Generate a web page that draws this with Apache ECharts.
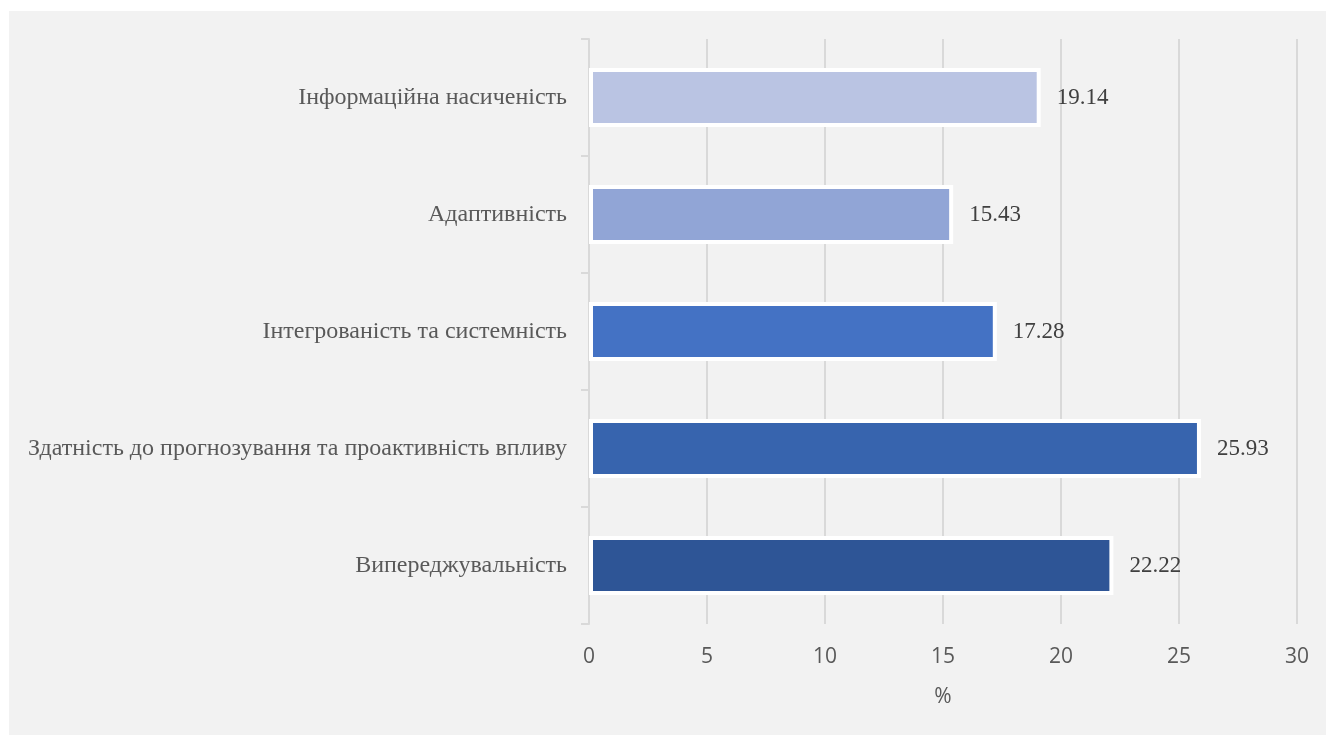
<!DOCTYPE html>
<html>
<head>
<meta charset="utf-8">
<script src="https://cdn.jsdelivr.net/npm/echarts@6/dist/echarts.min.js"></script>
<style>
	html, body { margin: 0; padding: 0; background: #fff; }
	#chart { position: absolute; left: 9px; top: 11px; width: 1317px; height: 724px; background: #f2f2f2; }
</style>
</head>
<body>
<div id="chart"></div>
<script>
// bottom to top
var categories = [
	'Випереджувальність',
	'Здатність до прогнозування та проактивність впливу',
	'Інтегрованість та системність',
	'Адаптивність',
	'Інформаційна насиченість'
];
var values = [22.22, 25.93, 17.28, 15.43, 19.14];
var barColors = ['#2e5596', '#3764ae', '#4472c4', '#91a5d6', '#bac4e3'];

var chart = echarts.init(document.getElementById('chart'));

chart.setOption({
	backgroundColor: '#f2f2f2',
	animation: false,
	grid: {
		left: 580,
		right: 29,
		top: 28,
		bottom: 111
	},
	xAxis: {
		type: 'value',
		min: 0,
		max: 30,
		interval: 5,
		name: '%',
		nameLocation: 'middle',
		nameGap: 63,
		nameTextStyle: { fontFamily: 'Open Sans', fontSize: 21, color: '#595959' },
		axisLine: { show: false },
		axisTick: { show: false },
		axisLabel: { fontFamily: 'Open Sans', fontSize: 21, color: '#595959', margin: 23 },
		splitLine: { show: true, lineStyle: { color: '#d9d9d9', width: 2 } }
	},
	yAxis: {
		type: 'category',
		data: categories,
		axisLine: { show: true, lineStyle: { color: '#d9d9d9', width: 2 } },
		axisTick: { show: true, length: 8, lineStyle: { color: '#d9d9d9', width: 2 } },
		axisLabel: { fontFamily: 'Liberation Serif', fontSize: 24, color: '#595959', margin: 22, padding: [5, 0, 0, 0] }
	},
	series: [{
		type: 'bar',
		data: values,
		barWidth: 59,
		itemStyle: {
			color: function (p) { return barColors[p.dataIndex]; },
			borderColor: '#ffffff',
			borderWidth: 4
		},
		label: {
			show: true,
			position: 'right',
			distance: 16,
			fontFamily: 'Liberation Serif',
			fontSize: 23,
			color: '#404040',
			padding: [5, 0, 0, 0],
			formatter: function (p) { return p.value.toFixed(2); }
		}
	}]
});
</script>
</body>
</html>
